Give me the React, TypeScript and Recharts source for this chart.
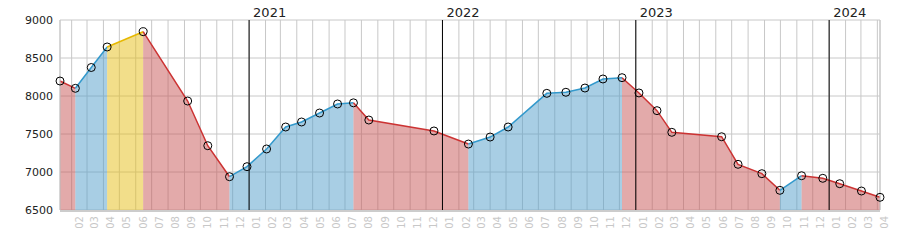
import {
  ComposedChart,
  Area,
  Line,
  XAxis,
  YAxis,
  CartesianGrid,
  ReferenceLine,
} from "recharts";

// ─── Data ───────────────────────────────────────────────────────────────────
const dates = [
  "2020-01-10", "2020-02-08", "2020-03-09", "2020-04-08", "2020-06-15",
  "2020-09-07", "2020-10-15", "2020-11-25", "2020-12-28", "2021-02-03",
  "2021-03-11", "2021-04-10", "2021-05-14", "2021-06-17", "2021-07-17",
  "2021-08-15", "2021-12-16", "2022-02-19", "2022-04-01", "2022-05-05",
  "2022-07-17", "2022-08-22", "2022-09-27", "2022-10-31", "2022-12-06",
  "2023-01-07", "2023-02-10", "2023-03-10", "2023-06-12", "2023-07-13",
  "2023-08-27", "2023-09-30", "2023-11-10", "2023-12-20", "2024-01-21",
  "2024-03-02", "2024-04-06",
];

const values = [
  8197, 8101, 8375, 8645, 8846,
  7934, 7346, 6938, 7070, 7303,
  7592, 7658, 7776, 7895, 7910,
  7684, 7540, 7368, 7460, 7592,
  8035, 8049, 8105, 8224, 8241,
  8040, 7807, 7522, 7464, 7101,
  6978, 6759, 6951, 6917, 6846,
  6750, 6667,
];

// kind of each segment between consecutive points: r = fall, b = rise, y = highlighted
const segmentKinds = (
  "r" + "bb" + "y" + "rrr" + "bbbbbbb" + "rrr" + "bbbbbbb" + "rrrrrrr" + "b" + "rrrr"
).split("");

const years = [2021, 2022, 2023, 2024];
const yTicks = [6500, 7000, 7500, 8000, 8500, 9000];

// ─── Palette ────────────────────────────────────────────────────────────────
const LINE: Record<string, string> = { r: "#cc3333", b: "#3399cc", y: "#e6b800" };
const FILL: Record<string, string> = { r: "#c75555", b: "#519dc9", y: "#e5bd15" };
const GRID = "#c8c8c8";
const FONT = "DejaVu Sans";

// ─── Derived ────────────────────────────────────────────────────────────────
const times = dates.map((d) => Date.parse(d));
const tStart = times[0];
const tEnd = times[times.length - 1];

type Run = { kind: string; from: number; to: number };
const runs: Run[] = [];
segmentKinds.forEach((k, i) => {
  const last = runs[runs.length - 1];
  if (last && last.kind === k) last.to = i + 1;
  else runs.push({ kind: k, from: i, to: i + 1 });
});

const rows = times.map((t, i) => {
  const row: Record<string, number | null> = { t, v: values[i] };
  runs.forEach((run, k) => {
    row["s" + k] = i >= run.from && i <= run.to ? values[i] : null;
  });
  return row;
});

// month boundaries (grid) and mid-months (labels)
const monthStarts: number[] = [];
const monthMids: number[] = [];
for (let y = 2020; y <= 2024; y++) {
  for (let m = 0; m < 12; m++) {
    const s = Date.UTC(y, m, 1);
    if (s > tStart && s <= tEnd) {
      monthStarts.push(s);
      monthMids.push(Date.UTC(y, m, 15));
    }
  }
}

function EmptyTick() {
  return <g />;
}

function MonthTick({ x, y, payload }: any) {
  const mm = String(new Date(payload.value).getUTCMonth() + 1).padStart(2, "0");
  return (
    <text
      x={x}
      y={y}
      transform={`rotate(-90 ${x} ${y})`}
      textAnchor="end"
      dominantBaseline="central"
      fontSize={10}
      fontFamily={FONT}
      fill={GRID}
    >
      {mm}
    </text>
  );
}

function YearLabel({ viewBox, text }: any) {
  return (
    <text x={viewBox.x + 4} y={viewBox.y - 3} fontSize={13} fontFamily={FONT} fill="#222">
      {text}
    </text>
  );
}

export default function App() {
  return (
    <div style={{ position: "absolute", left: 0, top: 0 }}>
      <ComposedChart
        width={900}
        height={250}
        data={rows}
        margin={{ top: 20, right: 20, bottom: 0, left: 0 }}
      >
        <CartesianGrid xAxisId="g" stroke={GRID} />

        <XAxis
          xAxisId="g"
          dataKey="t"
          type="number"
          domain={[tStart, tEnd]}
          ticks={monthStarts}
          interval={0}
          tick={<EmptyTick />}
          tickLine={false}
          axisLine={false}
          height={1}
        />
        <XAxis
          xAxisId="m"
          dataKey="t"
          type="number"
          domain={[tStart, tEnd]}
          ticks={monthMids}
          interval={0}
          tick={<MonthTick />}
          tickLine={false}
          tickSize={5}
          tickMargin={0}
          axisLine={{ stroke: "#cccccc", strokeWidth: 2 }}
          height={39}
        />
        <YAxis
          domain={[6500, 9000]}
          ticks={yTicks}
          width={60}
          tickLine={false}
          tickSize={5}
          tickMargin={2}
          axisLine={{ stroke: GRID }}
          tick={{ fill: "#222", fontSize: 11, fontFamily: FONT }}
        />

        {years.map((y) => (
          <ReferenceLine
            key={y}
            xAxisId="m"
            x={Date.UTC(y, 0, 1)}
            stroke="#000"
            strokeWidth={1}
            label={<YearLabel text={String(y)} />}
          />
        ))}

        {runs.map((run, k) => (
          <Area
            key={k}
            xAxisId="m"
            type="linear"
            dataKey={"s" + k}
            stroke={LINE[run.kind]}
            strokeWidth={1.5}
            fill={FILL[run.kind]}
            fillOpacity={0.5}
            dot={false}
            activeDot={false}
            isAnimationActive={false}
          />
        ))}

        <Line
          xAxisId="m"
          type="linear"
          dataKey="v"
          stroke="none"
          dot={{ r: 4, stroke: "#000", strokeWidth: 1, fill: "none" }}
          activeDot={false}
          isAnimationActive={false}
        />

        <ReferenceLine xAxisId="m" x={tEnd} stroke={GRID} />
      </ComposedChart>
    </div>
  );
}
